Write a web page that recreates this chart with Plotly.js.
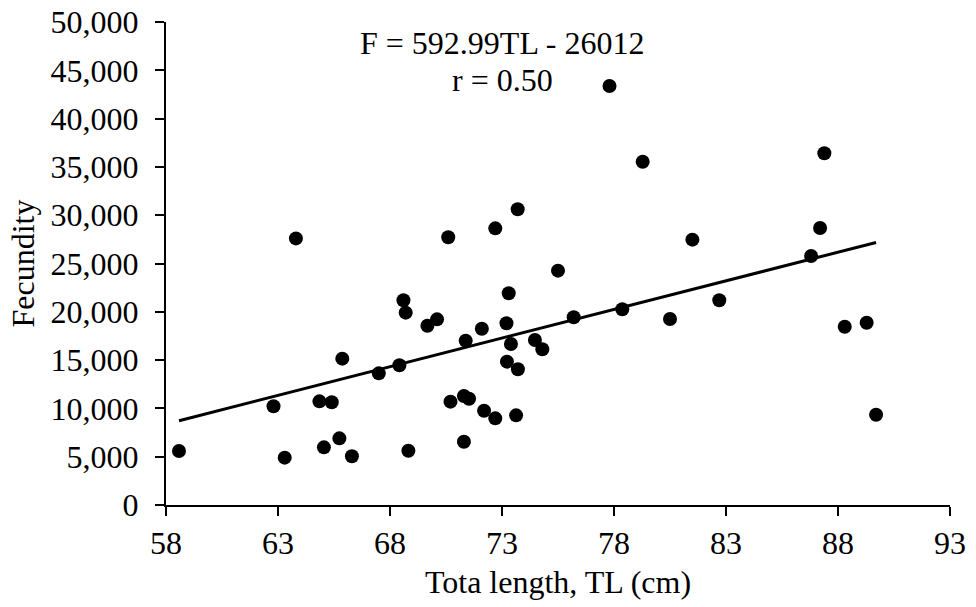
<!DOCTYPE html>
<html>
<head>
<meta charset="utf-8">
<script src="https://cdn.plot.ly/plotly-3.0.1.min.js"></script>
<style>html,body{margin:0;padding:0;background:#fff;}#chart{width:976px;height:607px;}</style>
</head>
<body>
<div id="chart"></div>
<script>
// Total length (cm)
const totalLength = [58.58, 62.8, 63.3, 63.8, 64.85, 65.05, 65.4, 65.74, 65.87, 66.3,
  67.5, 68.42, 68.6, 68.7, 68.82, 69.67, 70.1, 70.6, 70.7, 71.3,
  71.3, 71.38, 71.53, 72.1, 72.2, 72.7, 72.7, 73.2, 73.3, 73.4,
  73.22, 73.63, 73.7, 73.71, 74.47, 74.8, 75.5, 76.2, 77.8, 78.37,
  79.28, 80.5, 81.5, 82.7, 86.8, 87.2, 87.39, 88.3, 89.28, 89.7];
// Fecundity
const fecundity = [5590, 10220, 4900, 27600, 10730, 5970, 10630, 6900, 15150, 5040,
  13630, 14460, 21200, 19910, 5620, 18560, 19220, 27710, 10700, 6550,
  11280, 17010, 11000, 18250, 9760, 28640, 8970, 18810, 21920, 16670,
  14840, 9280, 30610, 14050, 17080, 16120, 24260, 19430, 43380, 20260,
  35540, 19250, 27470, 21200, 25780, 28680, 36410, 18460, 18870, 9350];
// Regression F = slope*TL + intercept
const slope = 592.99;
const intercept = -26012;
const equationText = "F = 592.99TL - 26012";
const rText = "r = 0.50";
const xTicks = [58, 63, 68, 73, 78, 83, 88, 93];
const yTicks = [0, 5000, 10000, 15000, 20000, 25000, 30000, 35000, 40000, 45000, 50000];

const xMin = Math.min(...totalLength), xMax = Math.max(...totalLength);
const lineX = [xMin, xMax];
const lineY = lineX.map(v => slope * v + intercept);

const font = 'Liberation Serif, Times New Roman, serif';
const fs = 32;
const data = [
  {x: totalLength, y: fecundity, type: 'scatter', mode: 'markers',
   marker: {color: '#000', size: 14}, showlegend: false, hoverinfo: 'x+y'},
  {x: lineX, y: lineY, type: 'scatter', mode: 'lines',
   line: {color: '#000', width: 3}, showlegend: false}
];
const layout = {
  width: 976, height: 607,
  margin: {l: 166, r: 26, t: 22, b: 102},
  paper_bgcolor: '#fff', plot_bgcolor: '#fff',
  font: {family: font, size: fs, color: '#000'},
  xaxis: {range: [58, 93], tickvals: xTicks, ticktext: xTicks.map(String),
    showgrid: false, zeroline: false, showline: true, linecolor: '#000', linewidth: 2,
    ticks: 'outside', ticklen: 9, tickwidth: 2, tickcolor: '#000',
    tickfont: {family: font, size: fs},
    title: {text: 'Tota length, TL (cm)', font: {family: font, size: fs}, standoff: 10}},
  yaxis: {range: [0, 50000], tickvals: yTicks, tickformat: ',d',
    showgrid: false, zeroline: false, showline: true, linecolor: '#000', linewidth: 2,
    ticks: 'outside', ticklen: 9, tickwidth: 2, tickcolor: '#000',
    ticklabelstandoff: 10,
    tickfont: {family: font, size: fs},
    title: {text: 'Fecundity', font: {family: font, size: fs}, standoff: 6}},
  annotations: [
    {x: 73, y: 47800, xref: 'x', yref: 'y', text: equationText, showarrow: false,
     font: {family: font, size: fs, color: '#000'}},
    {x: 73, y: 44000, xref: 'x', yref: 'y', text: rText, showarrow: false,
     font: {family: font, size: fs, color: '#000'}}
  ]
};
Plotly.newPlot('chart', data, layout, {displayModeBar: false, staticPlot: true});
</script>
</body>
</html>
